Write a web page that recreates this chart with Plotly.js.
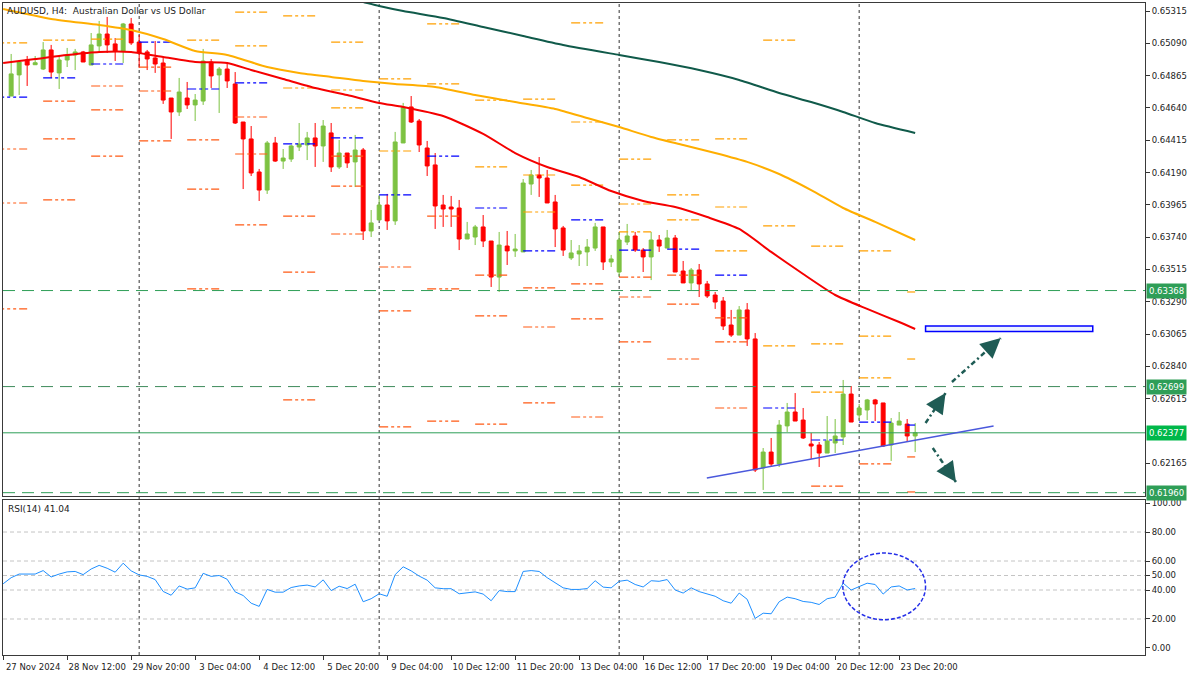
<!DOCTYPE html>
<html><head><meta charset="utf-8">
<script src="https://cdn.plot.ly/plotly-3.0.1.min.js"></script>
<style>html,body{margin:0;padding:0;background:#fff}#chart{width:1200px;height:675px}</style>
</head><body><div id="chart"></div>
<script>
// ---------- DATA (AUDUSD H4, bar 0 = 27 Nov 2024 04:00) ----------
const firstBar = 1;
const openP = [0.64723,0.64870,0.64974,0.64941,0.64911,0.65044,0.64884,0.64974,0.65009,0.65030,
0.64939,0.65072,0.65155,0.65086,0.65037,0.65225,0.65099,0.65030,0.64988,0.64953,
0.64709,0.64612,0.64709,0.64661,0.64688,0.64960,0.64870,0.64911,0.64807,0.64542,
0.64424,0.64194,0.64068,0.64396,0.64270,0.64284,0.64368,0.64382,0.64431,0.64375,
0.64466,0.64229,0.64326,0.64264,0.64347,0.63783,0.63860,0.63964,0.63853,0.64396,
0.64647,0.64549,0.64361,0.64243,0.63964,0.63950,0.63943,0.63727,0.63741,0.63811,
0.63713,0.63462,0.63678,0.63644,0.63637,0.64110,0.64173,0.64152,0.63985,0.63804,
0.63595,0.63623,0.63637,0.63664,0.63811,0.63567,0.63497,0.63706,0.63748,0.63650,
0.63602,0.63720,0.63664,0.63734,0.63504,0.63421,0.63511,0.63414,0.63337,0.63295,
0.63128,0.63058,0.63233,0.63031,0.62132,0.62243,0.62160,0.62425,0.62522,0.62466,
0.62299,0.62292,0.62236,0.62306,0.62348,0.62647,0.62501,0.62536,0.62606,0.62585,
0.62292,0.62431,0.62438,0.62355];
const highP = [0.65016,0.64974,0.65002,0.65002,0.65099,0.65079,0.65009,0.65058,0.65051,0.65037,
0.65162,0.65246,0.65274,0.65127,0.65232,0.65267,0.65148,0.65044,0.65106,0.64988,
0.64709,0.64849,0.64821,0.64737,0.65051,0.64981,0.64925,0.64960,0.64890,0.64542,
0.64514,0.64215,0.64410,0.64438,0.64354,0.64382,0.64535,0.64473,0.64535,0.64556,
0.64535,0.64417,0.64326,0.64452,0.64361,0.63929,0.64034,0.64041,0.64473,0.64675,
0.64723,0.64563,0.64410,0.64326,0.64034,0.64027,0.63999,0.63846,0.63825,0.63894,
0.63713,0.63776,0.63783,0.63762,0.64145,0.64208,0.64298,0.64208,0.64034,0.63818,
0.63720,0.63685,0.63727,0.63839,0.63811,0.63616,0.63776,0.63832,0.63776,0.63664,
0.63776,0.63755,0.63790,0.63755,0.63574,0.63525,0.63553,0.63435,0.63358,0.63323,
0.63233,0.63260,0.63281,0.63072,0.62271,0.62341,0.62466,0.62585,0.62654,0.62550,
0.62376,0.62313,0.62494,0.62473,0.62745,0.62703,0.62578,0.62613,0.62613,0.62585,
0.62480,0.62522,0.62473,0.62445];
const lowP = [0.64723,0.64730,0.64793,0.64939,0.64904,0.64849,0.64772,0.64925,0.64904,0.64960,
0.64939,0.65023,0.65023,0.64967,0.64953,0.65079,0.64918,0.64904,0.64884,0.64668,
0.64424,0.64584,0.64633,0.64549,0.64661,0.64779,0.64605,0.64779,0.64528,0.64075,
0.64166,0.63992,0.64041,0.64264,0.64215,0.64264,0.64340,0.64277,0.64229,0.64264,
0.64194,0.64215,0.64222,0.64089,0.63720,0.63741,0.63860,0.63790,0.63825,0.64396,
0.64535,0.64333,0.64166,0.63797,0.63811,0.63811,0.63650,0.63727,0.63685,0.63671,
0.63393,0.63358,0.63546,0.63602,0.63637,0.64034,0.64020,0.63978,0.63671,0.63609,
0.63581,0.63539,0.63539,0.63644,0.63511,0.63532,0.63469,0.63685,0.63637,0.63497,
0.63441,0.63637,0.63664,0.63497,0.63421,0.63372,0.63323,0.63316,0.63240,0.63093,
0.63045,0.63058,0.62982,0.62104,0.61979,0.62139,0.62139,0.62383,0.62459,0.62334,
0.62195,0.62139,0.62236,0.62236,0.62292,0.62452,0.62466,0.62466,0.62459,0.62278,
0.62181,0.62431,0.62313,0.62243];
const closeP = [0.64877,0.64960,0.64939,0.64955,0.65044,0.64890,0.64974,0.65009,0.65030,0.64960,
0.65079,0.65155,0.65079,0.65037,0.65225,0.65093,0.65023,0.64981,0.64946,0.64695,
0.64612,0.64751,0.64661,0.64695,0.64967,0.64863,0.64911,0.64828,0.64535,0.64424,
0.64187,0.64068,0.64396,0.64270,0.64291,0.64375,0.64389,0.64431,0.64375,0.64514,
0.64229,0.64326,0.64257,0.64347,0.63783,0.63839,0.63964,0.63853,0.64403,0.64647,
0.64542,0.64382,0.64236,0.63957,0.63936,0.63936,0.63727,0.63762,0.63811,0.63713,
0.63462,0.63685,0.63644,0.63657,0.64117,0.64173,0.64152,0.63978,0.63797,0.63650,
0.63630,0.63644,0.63671,0.63811,0.63567,0.63588,0.63720,0.63748,0.63650,0.63602,
0.63720,0.63678,0.63734,0.63497,0.63421,0.63511,0.63414,0.63330,0.63288,0.63121,
0.63058,0.63233,0.63031,0.62118,0.62243,0.62160,0.62431,0.62522,0.62459,0.62341,
0.62285,0.62236,0.62320,0.62355,0.62647,0.62452,0.62550,0.62606,0.62578,0.62285,
0.62445,0.62459,0.62355,0.62377];

// Moving averages (bar index / value)
const maFastBars = [0,4,8,12,16,20,24,28,31,35,39,43,47,50,55,60,64,68,72,76,80,84,88,92,96,100,104,108,112,114];
const maFastVals = [0.64953,0.64981,0.65009,0.65030,0.65030,0.64995,0.64960,0.64953,0.64904,0.64842,
0.64779,0.64730,0.64675,0.64647,0.64584,0.64459,0.64326,0.64229,0.64159,0.64061,
0.63992,0.63950,0.63880,0.63797,0.63637,0.63483,0.63337,0.63240,0.63149,0.63100];
const maMidBars = [0,6,12,16,20,24,28,33,37,41,45,49,54,59,64,69,73,77,81,85,89,93,97,101,105,109,114];
const maMidVals = [0.65329,0.65260,0.65218,0.65183,0.65120,0.65037,0.65009,0.64925,0.64884,0.64856,
0.64828,0.64807,0.64786,0.64730,0.64681,0.64633,0.64570,0.64507,0.64438,0.64382,
0.64326,0.64264,0.64180,0.64068,0.63943,0.63846,0.63720];
const maSlowBars = [43,45,47,50,55,60,65,70,77,82,87,92,97,101,105,109,114];
const maSlowVals = [0.65406,0.65378,0.65350,0.65315,0.65267,0.65204,0.65141,0.65079,0.65009,0.64960,
0.64904,0.64835,0.64744,0.64681,0.64612,0.64535,0.64466];

// RSI(14), bars 0..114
const rsi = [44.3,48.5,51,51,51,53.4,49,51,52.5,52.8,
50.6,54.5,57,55,52.3,58.5,53.2,50.4,49.4,47.2,
39,36.4,42.8,40.6,41.5,51.5,49.4,50,47.4,38.7,
36.2,30.9,28.7,40.4,38.5,38.5,41.7,42.8,43.4,42.1,
47,39.6,42.6,41,44,31.9,34,37.4,35.7,50.6,
56,53.2,49.6,46.8,41.5,40.9,40.9,37.4,38.3,38.7,
37.2,32.6,39.6,38.9,38.9,52.8,53.4,52.8,48.5,44.7,
41.5,40.4,40.4,41,46.4,42,41.5,46,46.8,43.8,
42.1,46.4,46,47.2,40,37.9,41.5,38.9,37.2,35.7,
32.6,30.9,37.9,33.6,20.4,24,23.6,31.9,35.1,34,
32.1,31.5,30,34,35.1,44.7,40,42.6,44.7,43.8,
37.2,42.1,42.8,40,41.04];
const rsiLevels = [20,40,50,60,80];
const rsiTicks = [0,20,40,50,60,80,100];

// Daily pivot levels (first bar of each day)
const pivotDayStart = [-1,5,11,17,23,29,35,41,47,53,59,65,71,77,83,89,95,101,107,113];
const pivotP  = [0.64716,0.64849,0.64946,0.65099,0.64772,0.64814,0.64389,0.64431,0.64034,0.64305,0.63943,0.63644,0.63860,0.63650,0.63657,0.63476,0.62550,0.62327,0.62452,0.62431];
const pivotR1 = [0.65093,0.65113,0.65120,null,0.65113,0.65072,0.64779,0.64640,0.64340,0.64807,0.64229,0.63915,0.64103,0.63776,0.63860,0.63644,0.62982,0.62661,0.62759,null];
const pivotR2 = [null,null,null,null,null,0.65308,0.65281,0.64765,0.64842,0.65225,0.64695,0.64173,0.64542,0.63971,0.64034,0.63950,0.63818,0.62996,0.63051,0.62891];
const pivotR3 = [null,null,null,null,null,null,null,0.65099,null,null,null,0.64702,0.65232,0.64284,0.64417,0.64424,0.65113,0.63678,0.63644,0.63358];
const pivotS1 = [0.64354,0.64688,0.64793,0.64925,0.64417,0.64577,0.63887,0.64305,0.63532,0.63887,0.63476,0.63386,0.63414,0.63462,0.63476,0.63177,null,0.62006,0.62160,0.62209];
const pivotS2 = [0.63978,0.64424,0.64626,0.64758,0.64075,0.64319,0.63497,0.64096,0.63226,0.63379,0.63191,0.63114,0.63170,0.63323,0.63274,0.63010,null,null,null,0.61965];
const pivotS3 = [0.63240,0.63999,0.64305,0.64410,0.63379,0.63825,0.62606,0.63762,0.62418,0.62459,0.62438,0.62585,0.62487,0.63010,0.62891,0.62550,null,null,null,null];

// Key horizontal levels, separators, axis ticks
const keyLevels = [0.63368,0.62699,0.62377,0.61960];
const weekSepBars = [17,47,77,107];
const priceTicks = [0.65315,0.65090,0.64865,0.64640,0.64415,0.64190,0.63965,0.63740,0.63515,0.63290,0.63065,0.62840,0.62615,0.62165];
const xTickBars = [0,8,16,24,32,40,48,56,64,72,80,88,96,104,112];
const xTickText = ['27 Nov 2024','28 Nov 12:00','29 Nov 20:00','3 Dec 04:00','4 Dec 12:00','5 Dec 20:00','9 Dec 04:00','10 Dec 12:00','11 Dec 20:00','13 Dec 04:00','16 Dec 12:00','17 Dec 20:00','19 Dec 04:00','20 Dec 12:00','23 Dec 20:00'];

// Drawn objects (trendline, target box, arrows) in bar/price terms
const trendLine = {b0:87.96,p0:0.62062,b1:123.8,p1:0.62424};
const targetBox = {b0:115.3,b1:136.2,p0:0.63083,p1:0.63121};
const arrowsUp = [{b0:115.3,p0:0.62445,b1:117.8,p1:0.62654},{b0:118.6,p0:0.62731,b1:124.7,p1:0.63037}];
const arrowsDown = [{b0:116.2,p0:0.62271,b1:119.1,p1:0.62034}];
const rsiEllipse = {b0:104.96,b1:115.3,v0:19.5,v1:65.5};

// ---------- BUILD ----------
const xs = openP.map((_, k) => firstBar + k);
const lastBar = xs[xs.length - 1];
const pivotSpan = 4;
function segs(vals) {
  const x = [], y = [];
  pivotDayStart.forEach((s, k) => {
    const v = vals[k]; if (v == null) return;
    x.push(s, Math.min(s + pivotSpan, lastBar), null); y.push(v, v, null);
  });
  return {x, y};
}
function merge(list) {
  const x = [], y = [];
  list.forEach(a => { const s = segs(a); x.push(...s.x); y.push(...s.y); });
  return {x, y};
}
const pivDash = '9px,3px,3px,3px,3px,3px';
const resS = merge([pivotR1, pivotR2, pivotR3]);
const supS = merge([pivotS1, pivotS2, pivotS3]);
const pS = segs(pivotP);

const FONT = 'DejaVu Sans';
const traces = [
  {type:'scatter', mode:'lines', x:supS.x, y:supS.y, line:{color:'#FF5A14', width:1.2, dash:pivDash}, hoverinfo:'skip', connectgaps:false},
  {type:'scatter', mode:'lines', x:resS.x, y:resS.y, line:{color:'#FFA000', width:1.2, dash:pivDash}, hoverinfo:'skip', connectgaps:false},
  {type:'scatter', mode:'lines', x:pS.x, y:pS.y, line:{color:'#0000FF', width:1.2, dash:pivDash}, hoverinfo:'skip', connectgaps:false},
  {type:'candlestick', x:xs, open:openP, high:highP, low:lowP, close:closeP, xaxis:'x', yaxis:'y',
   increasing:{line:{color:'#7DC242', width:1}, fillcolor:'#7DC242'},
   decreasing:{line:{color:'#FF0000', width:1}, fillcolor:'#FF0000'},
   whiskerwidth:0, hoverinfo:'skip'},
  {type:'scatter', mode:'lines', x:maSlowBars, y:maSlowVals, line:{color:'#105A4A', width:2, shape:'spline', smoothing:0.6}, hoverinfo:'skip'},
  {type:'scatter', mode:'lines', x:maMidBars, y:maMidVals, line:{color:'#FFAE00', width:2, shape:'spline', smoothing:0.6}, hoverinfo:'skip'},
  {type:'scatter', mode:'lines', x:maFastBars, y:maFastVals, line:{color:'#F50000', width:2, shape:'spline', smoothing:0.6}, hoverinfo:'skip'},
  {type:'scatter', mode:'lines', x:rsi.map((_, k) => k), y:rsi, xaxis:'x2', yaxis:'y2', line:{color:'#1E8FFF', width:1}, hoverinfo:'skip'}
];

const shapes = [];
weekSepBars.forEach(b => shapes.push({type:'line', xref:'x', yref:'paper', x0:b, x1:b, y0:0, y1:1, layer:'below', line:{color:'#333', width:1, dash:'3px,3px'}}));
const keyStyle = [
  {color:'#2E9E57', dash:'12px,7px'},
  {color:'#3D8A5B', dash:'12px,7px'},
  {color:'#2E9E57', dash:'solid'},
  {color:'#2E9E57', dash:'12px,7px'}
];
const keyBg = ['#2E9E57','#2E9E57','#00B84A','#2E9E57'];
keyLevels.forEach((p, k) => shapes.push({type:'line', xref:'paper', x0:0, x1:1, yref:'y', y0:p, y1:p, line:{color:keyStyle[k].color, width:1, dash:keyStyle[k].dash}}));
rsiLevels.forEach(v => shapes.push({type:'line', xref:'paper', x0:0, x1:1, yref:'y2', y0:v, y1:v, layer:'below', line:{color:'#C4C4C4', width:1, dash:'4px,3px'}}));
shapes.push({type:'line', xref:'x', yref:'y', x0:trendLine.b0, y0:trendLine.p0, x1:trendLine.b1, y1:trendLine.p1, line:{color:'#4A58DC', width:1.5}});
shapes.push({type:'rect', xref:'x', yref:'y', x0:targetBox.b0, x1:targetBox.b1, y0:targetBox.p0, y1:targetBox.p1, fillcolor:'#EEF3FF', line:{color:'#0000FF', width:1.5}});
arrowsUp.concat(arrowsDown).forEach(a => shapes.push({type:'line', xref:'x', yref:'y', x0:a.b0, y0:a.p0, x1:a.b1, y1:a.p1, line:{color:'#1F5C55', width:2.5, dash:'5px,3px,2px,3px'}}));
shapes.push({type:'circle', xref:'x2', yref:'y2', x0:rsiEllipse.b0, x1:rsiEllipse.b1, y0:rsiEllipse.v0, y1:rsiEllipse.v1, line:{color:'#2630E8', width:1.5, dash:'4px,2px'}});

const annotations = [
  {xref:'paper', yref:'paper', x:0, y:1, xanchor:'left', yanchor:'top', xshift:2, yshift:-1, showarrow:false,
   text:'AUDUSD, H4:\u00A0 Australian Dollar vs US Dollar', font:{family:FONT, size:9, color:'#222'}},
  {xref:'paper', yref:'y2 domain', x:0, y:1, xanchor:'left', yanchor:'top', xshift:3, yshift:-2, showarrow:false,
   text:'RSI(14) ' + rsi[rsi.length - 1].toFixed(2), font:{family:FONT, size:9, color:'#222'}}
];
keyLevels.forEach((p, k) => annotations.push({xref:'paper', yref:'y', x:1, y:p, xanchor:'left', yanchor:'middle', xshift:1, showarrow:false,
  text:p.toFixed(5), bgcolor:keyBg[k], borderpad:2, font:{family:FONT, size:8.5, color:'#FFFFFF'}}));
function head(a) {
  return {xref:'x', yref:'y', x:a.b1, y:a.p1, ax:0, ay:0, showarrow:true, arrowhead:2, arrowsize:1.6, arrowwidth:2.5,
    arrowcolor:'#1F5C55', text:'', standoff:0};
}
arrowsUp.concat(arrowsDown).forEach(a => {
  const h = head(a);
  const dxp = (a.b1 - a.b0) * 8, dyp = -(a.p1 - a.p0) / 0.00006966;
  const L = Math.hypot(dxp, dyp);
  h.ax = -dxp / L * 9; h.ay = -dyp / L * 9;
  annotations.push(h);
});

const axisFont = {family:FONT, size:8.5, color:'#222'};
const xr = [-0.02, 142.73];
const layout = {
  width:1200, height:675, margin:{l:3, r:55, t:3, b:20},
  paper_bgcolor:'#FFFFFF', plot_bgcolor:'#FFFFFF', showlegend:false,
  xaxis:{domain:[0,1], range:xr, anchor:'y', showticklabels:false, ticks:'', showgrid:false, zeroline:false,
    showline:true, linecolor:'#3A3A3A', linewidth:1, mirror:true, rangeslider:{visible:false}},
  xaxis2:{domain:[0,1], range:xr, matches:'x', anchor:'y2', tickmode:'array', tickvals:xTickBars, ticktext:xTickText,
    ticks:'outside', ticklen:4, tickcolor:'#333', tickfont:axisFont, ticklabelshift:30, showgrid:false, zeroline:false,
    showline:true, linecolor:'#3A3A3A', linewidth:1, mirror:true, rangeslider:{visible:false}},
  yaxis:{domain:[0.2439,1], range:[0.61937,0.65371], side:'right', anchor:'x', tickmode:'array', tickvals:priceTicks,
    ticktext:priceTicks.map(v => v.toFixed(5)), ticks:'outside', ticklen:4, tickcolor:'#333', tickfont:axisFont,
    showgrid:false, zeroline:false, showline:true, linecolor:'#3A3A3A', linewidth:1, mirror:true},
  yaxis2:{domain:[0,0.2377], range:[-4.83,102.07], side:'right', anchor:'x2', tickmode:'array', tickvals:rsiTicks,
    ticktext:rsiTicks.map(v => v.toFixed(2)), ticks:'outside', ticklen:4, tickcolor:'#333', tickfont:axisFont,
    showgrid:false, zeroline:false, showline:true, linecolor:'#3A3A3A', linewidth:1, mirror:true},
  shapes:shapes, annotations:annotations
};
Plotly.newPlot('chart', traces, layout, {displayModeBar:false, staticPlot:true});
</script></body></html>
